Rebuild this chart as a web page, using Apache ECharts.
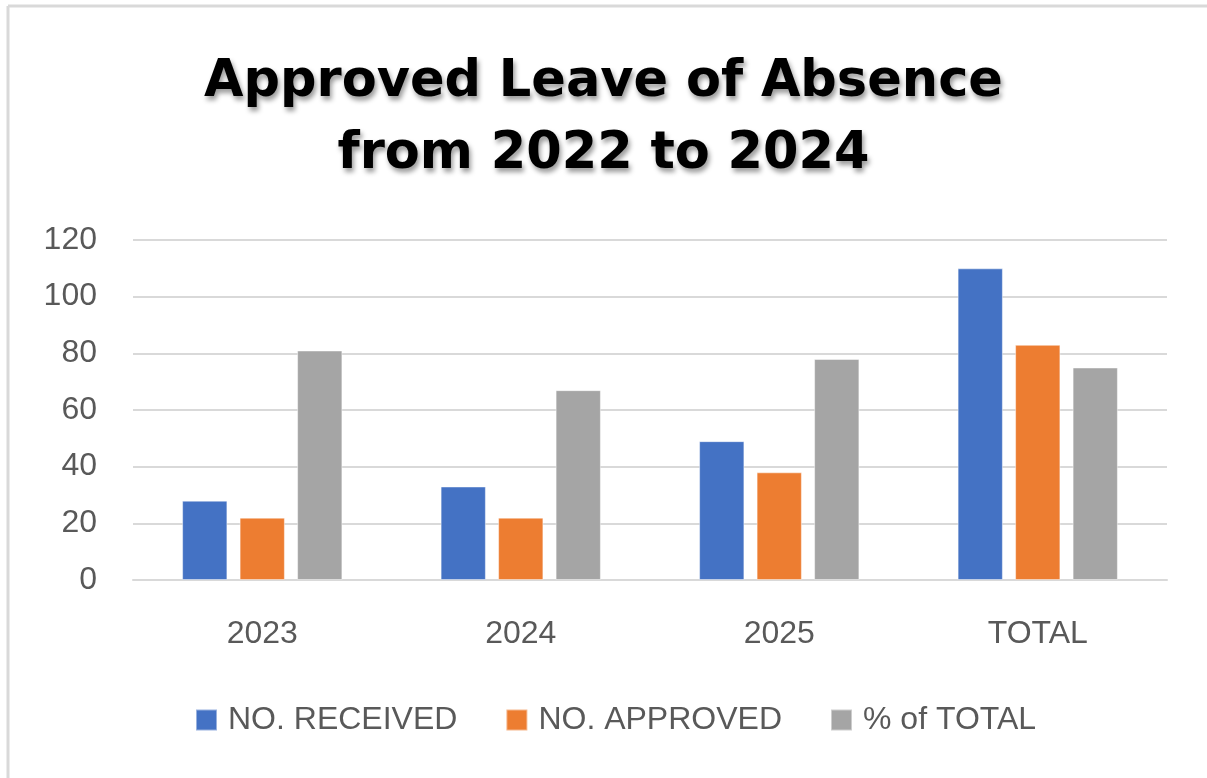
<!DOCTYPE html>
<html>
<head>
<meta charset="utf-8">
<script src="https://cdn.jsdelivr.net/npm/echarts@6/dist/echarts.min.js"></script>
<style>
  html, body { margin: 0; padding: 0; background: #fff; }
  #chart { width: 1207px; height: 778px; }
</style>
</head>
<body>
<div id="chart"></div>
<script>
// Categories and series
const categories = ['2023', '2024', '2025', 'TOTAL'];
const received = [28, 33, 49, 110];
const approved = [22, 22, 38, 83];
const pctOfTotal = [81, 67, 78, 75];
const seriesNames = ['NO. RECEIVED', 'NO. APPROVED', '% of TOTAL'];
const colors = ['#4472C4', '#ED7D31', '#A5A5A5'];

const chart = echarts.init(document.getElementById('chart'), null, { renderer: 'canvas' });

const labelFont = 'Liberation Sans, Arial, sans-serif';

function barSeries(name, data, color) {
  return {
    name: name,
    type: 'bar',
    data: data,
    barGap: '27%',
    barCategoryGap: '38%',
    itemStyle: { color: color, borderColor: 'rgba(255,255,255,0.45)', borderWidth: 1 },
    emphasis: { disabled: true }
  };
}

chart.setOption({
  animation: false,
  backgroundColor: '#ffffff',
  color: colors,
  // chart frame: top and left edges
  graphic: [
    {
      type: 'line',
      shape: { x1: 8, y1: 6, x2: 1207, y2: 6 },
      style: { stroke: '#d9d9d9', lineWidth: 3 },
      silent: true
    },
    {
      type: 'line',
      shape: { x1: 8, y1: 6, x2: 8, y2: 778 },
      style: { stroke: '#d9d9d9', lineWidth: 3 },
      silent: true
    }
  ],
  title: {
    text: 'Approved Leave of Absence\nfrom 2022 to 2024',
    left: 'center',
    top: 42,
    textStyle: {
      fontFamily: 'DejaVu Sans, sans-serif',
      fontWeight: 'bold',
      fontSize: 51,
      lineHeight: 72,
      color: '#000',
      textShadowColor: 'rgba(0,0,0,0.4)',
      textShadowBlur: 5,
      textShadowOffsetX: 2,
      textShadowOffsetY: 4
    }
  },
  legend: {
    data: seriesNames,
    top: 699,
    left: 190,
    itemWidth: 21,
    itemHeight: 21,
    itemGap: 48,
    icon: 'rect',
    textStyle: { fontFamily: labelFont, fontSize: 32, color: '#595959', padding: [0, 0, 0, 6] }
  },
  grid: { left: 133, right: 40, top: 240, bottom: 198 },
  xAxis: {
    type: 'category',
    data: categories,
    axisLine: { show: true, lineStyle: { color: '#d9d9d9', width: 2 } },
    axisTick: { show: false },
    axisLabel: { fontFamily: labelFont, fontSize: 32, color: '#595959', margin: 38 }
  },
  yAxis: {
    type: 'value',
    min: 0,
    max: 120,
    interval: 20,
    axisLine: { show: false },
    axisTick: { show: false },
    splitLine: { lineStyle: { color: '#d9d9d9', width: 2 } },
    axisLabel: { fontFamily: labelFont, fontSize: 32, color: '#595959', margin: 36 }
  },
  series: [
    barSeries(seriesNames[0], received, colors[0]),
    barSeries(seriesNames[1], approved, colors[1]),
    barSeries(seriesNames[2], pctOfTotal, colors[2])
  ]
});
</script>
</body>
</html>
